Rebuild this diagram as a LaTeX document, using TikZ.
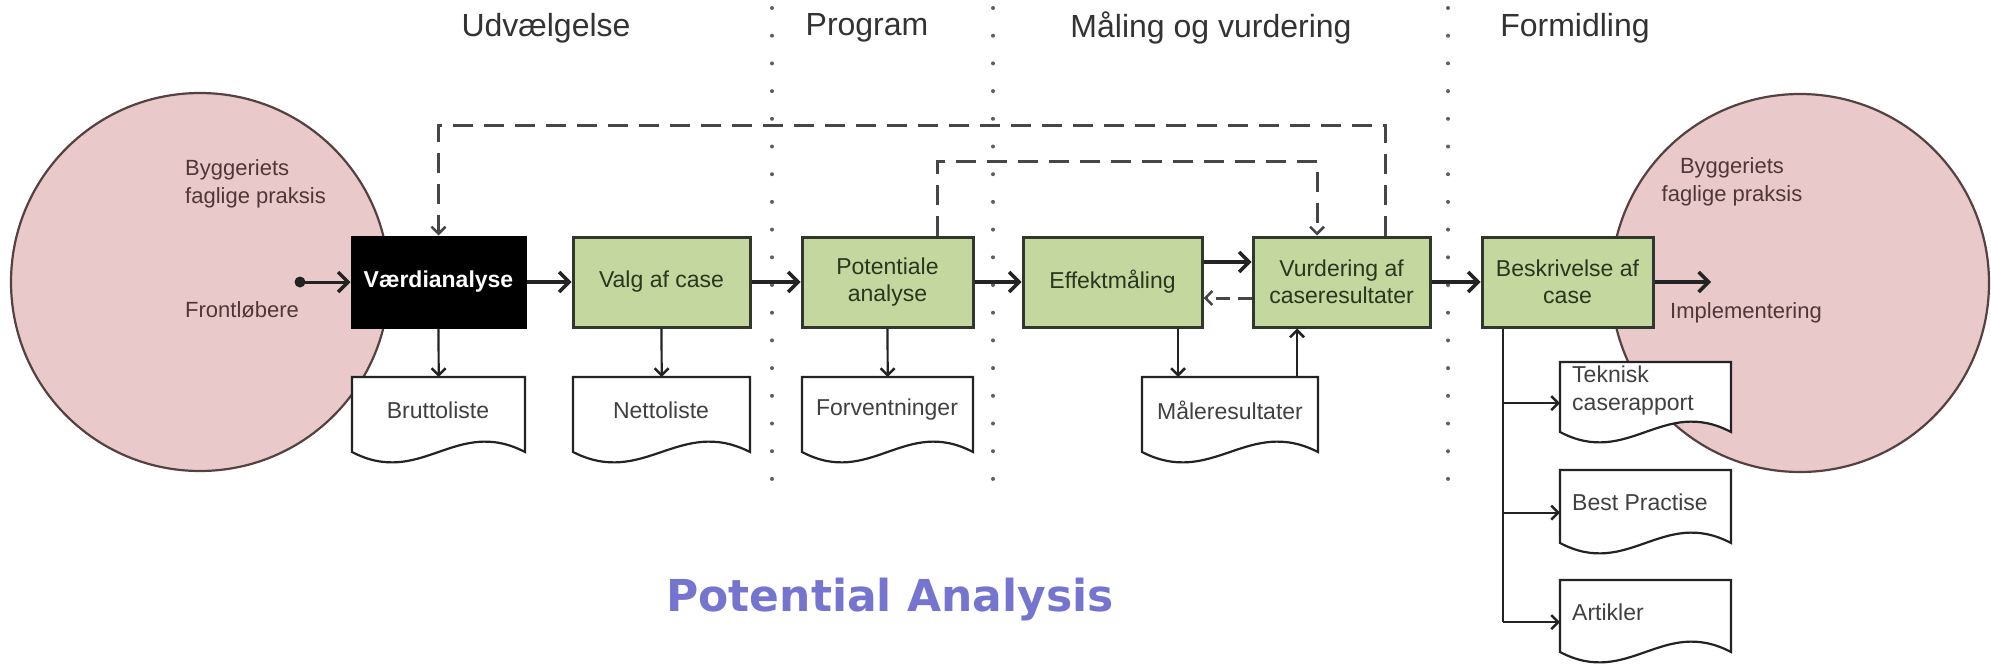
\documentclass[tikz,border=0pt]{standalone}
\usepackage{fontspec}
\setmainfont{Liberation Sans}
\newfontfamily\titlefont{DejaVu Sans}
\usetikzlibrary{arrows.meta,calc}
\definecolor{boxgreen}{RGB}{196,215,158}
\definecolor{boxline}{RGB}{50,55,45}
\definecolor{circfill}{RGB}{233,201,201}
\definecolor{circline}{RGB}{85,65,65}
\definecolor{titleblue}{RGB}{117,117,207}
\definecolor{linegray}{RGB}{35,35,35}
\definecolor{dashgray}{RGB}{70,70,70}
\definecolor{dotgray}{RGB}{95,95,95}
\definecolor{circtextc}{RGB}{80,55,55}
\definecolor{boxtextc}{RGB}{40,55,30}
\newcommand{\docnode}[5]{%
  \path[docshape] (#2,#3) -- (#4,#3) -- (#4,#5) .. controls ({#4-0.4*(#4-#2)},{#5-36}) and ({#2+0.4*(#4-#2)},{#5+36}) .. (#2,#5) -- cycle;
  \node[docanchor, minimum width={(#4-#2)*1pt}, minimum height={(#5-#3+12)*1pt}] (#1) at (#2,#3) {};
}
\tikzset{
  x=1pt, y=-1pt,
  procbox/.style={draw=boxline, line width=3pt, fill=boxgreen, minimum height=90pt, inner sep=0pt, align=center, font=\fontsize{23}{27}\selectfont, text=boxtextc},
  blackbox/.style={procbox, fill=black, draw=black, text=white, font=\fontsize{23}{27}\selectfont\bfseries},
  docshape/.style={draw=linegray, line width=2.2pt, fill=white},
  docanchor/.style={inner sep=0pt, anchor=north west},
  doctext/.style={font=\fontsize{23}{28}\selectfont, text=black!75, inner sep=0pt},
  circtext/.style={font=\fontsize{22}{28}\selectfont, text=circtextc, inner sep=0pt},
  headtext/.style={font=\fontsize{32}{38}\selectfont, text=black!80, inner sep=0pt},
  bigcirc/.style={circle, draw=circline, fill=circfill, line width=2.2pt, minimum size=378pt, inner sep=0pt},
  flow/.style={draw=linegray, line width=3.5pt, -{Straight Barb[length=10pt,width=20pt,line width=3.5pt]}},
  thinarr/.style={draw=linegray, line width=2.2pt, -{Straight Barb[length=7pt,width=14pt,line width=2.5pt]}},
  dashline/.style={draw=dashgray, line width=3pt, dash pattern=on 20pt off 11pt},
  dasharr/.style={dashline, -{Straight Barb[length=7pt,width=14pt,line width=2.5pt]}},
  dotline/.style={draw=dotgray, line width=4pt, line cap=round, dash pattern=on 0pt off 27.7pt},
}
\begin{document}
\begin{tikzpicture}
\useasboundingbox (0,0) rectangle (1991,664);
\fill[white] (0,0) rectangle (1991,664);

% circles
\node[bigcirc] (lc) at (200,282) {};
\node[bigcirc] (rc) at (1800,283) {};
\node[circtext, anchor=west, align=left] (lct) at (185,184) {Byggeriets\\faglige praksis};
\node[circtext, anchor=west] (front) at (185,310) {Frontløbere};
\node[circtext, align=center] (rct) at (1732,182) {Byggeriets\\faglige praksis};
\node[circtext, anchor=west] (impl) at (1670,313) {Implementering};

% phase headings
\node[headtext] (h1) at (546,28) {Udvælgelse};
\node[headtext] (h2) at (867,28) {Program};
\node[headtext] (h3) at (1211,28) {Måling og vurdering};
\node[headtext] (h4) at (1575,28) {Formidling};

% separators
\draw[dotline] (772,8) -- (772,495);
\draw[dotline] (993,8) -- (993,495);
\draw[dotline] (1448,8) -- (1448,495);

% process boxes
\node[blackbox, minimum width=173pt] (vae) at (438.5,282) {Værdianalyse};
\node[procbox, minimum width=177pt] (valg) at (661.5,282) {Valg af case};
\node[procbox, minimum width=171pt] (pot) at (887.5,282) {Potentiale\\analyse};
\node[procbox, minimum width=179pt] (eff) at (1112.5,282) {Effektmåling};
\node[procbox, minimum width=177pt] (vur) at (1341.5,282) {Vurdering af\\caseresultater};
\node[procbox, minimum width=171pt] (besk) at (1567.5,282) {Beskrivelse af\\case};

% documents
\docnode{brutto}{352}{377}{525}{452}
\docnode{netto}{573}{377}{750}{452}
\docnode{forv}{802}{377}{973}{452}
\docnode{maal}{1142}{377}{1318}{452}
\docnode{tek}{1560}{362}{1731}{432}
\docnode{best}{1560}{470}{1731}{543}
\docnode{art}{1560}{580}{1731}{652}
\node[doctext] (tbrutto) at (438,410) {Bruttoliste};
\node[doctext] (tnetto) at (661,410) {Nettoliste};
\node[doctext] (tforv) at (887,410) {Forventninger};
\node[doctext] (tmaal) at (1230,410) {Måleresultater};
\node[doctext, anchor=west, align=left] (ttek) at (1572,391) {Teknisk\\caserapport};
\node[doctext, anchor=west] (tbest) at (1572,502) {Best Practise};
\node[doctext, anchor=west] (tart) at (1572,612) {Artikler};

% main flow
\coordinate (fdot) at (300,282);
\fill[linegray] (fdot) circle (5.5pt);
\draw[flow, line width=3pt] (fdot) -- (vae.west);
\draw[flow] (vae.east) -- (valg.west);
\draw[flow] (valg.east) -- (pot.west);
\draw[flow] (pot.east) -- (eff.west);
\draw[flow] ([yshift=20pt]eff.east) -- ([yshift=20pt]vur.west);
\draw[dasharr, dash pattern=on 14pt off 8pt] ([yshift=-16pt]vur.west) -- ([yshift=-16pt]eff.east);
\draw[flow] (vur.east) -- (besk.west);
\coordinate (implend) at (1711,282);
\draw[flow, line width=4pt] (besk.east) -- (implend);

% outputs
\draw[thinarr] (vae.south) -- (brutto.north);
\draw[thinarr] (valg.south) -- (netto.north);
\draw[thinarr] (pot.south) -- (forv.north);
\draw[thinarr] (1178,0 |- eff.south) -- (1178,0 |- maal.north);
\draw[thinarr] (1297,0 |- maal.north) -- (1297,0 |- vur.south);

\coordinate (bv) at (1503,0 |- besk.south);
\draw[draw=linegray, line width=2.8pt] (bv) -- (bv |- art.west);
\draw[thinarr] (bv |- tek.west) -- (tek.west);
\draw[thinarr] (bv |- best.west) -- (best.west);
\draw[thinarr] (bv |- art.west) -- (art.west);

% feedback loops
\coordinate (otop) at (0,125);
\coordinate (itop) at (0,161);
\draw[dasharr] (1385,0 |- vur.north) -- (1385,0 |- otop) -- (vae.north |- otop) -- (vae.north);
\draw[dasharr] (937,0 |- pot.north) -- (937,0 |- itop) -- (1317,0 |- itop) -- (1317,0 |- vur.north);

% title
\node[font=\titlefont\fontsize{44}{50}\selectfont\bfseries, text=titleblue, inner sep=0pt] (title) at (890,600) {Potential Analysis};
\end{tikzpicture}
\end{document}
